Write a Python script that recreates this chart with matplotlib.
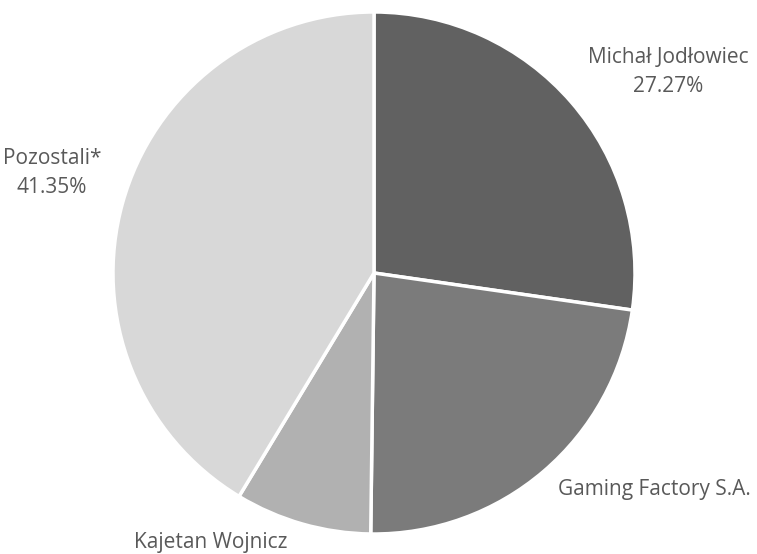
import matplotlib.pyplot as plt

labels = ['Michał Jodłowiec', 'Gaming Factory S.A.', 'Kajetan Wojnicz', 'Pozostali*']
shares = [27.27, 22.93, 8.45, 41.35]
show_pct = [True, False, False, True]
colors = ['#616161', '#7b7b7b', '#b1b1b1', '#d8d8d8']

# label centres in data units (pie radius = 1)
label_pos = [(1.126, 0.77), (1.073, -0.831), (-0.625, -1.034), (-1.234, 0.383)]

R_PX = 261
CX, CY = 374, 273
W, H = 757, 554

fig = plt.figure(figsize=(W / 100, H / 100), dpi=100)
ax = fig.add_axes([0, 0, 1, 1])
ax.pie(shares, colors=colors, startangle=90, counterclock=False,
       wedgeprops=dict(edgecolor='white', linewidth=2.5))
ax.set_xlim(-CX / R_PX, (W - CX) / R_PX)
ax.set_ylim(-(H - CY) / R_PX, CY / R_PX)
ax.set_aspect('equal')
ax.axis('off')

for name, val, pct, (x, y) in zip(labels, shares, show_pct, label_pos):
    txt = f'{name}\n{val:.2f}%' if pct else name
    ax.text(x, y, txt, ha='center', va='center', fontsize=15,
            family='Open Sans', color='#595959', linespacing=1.55)

fig.savefig('out.png', dpi=100)
